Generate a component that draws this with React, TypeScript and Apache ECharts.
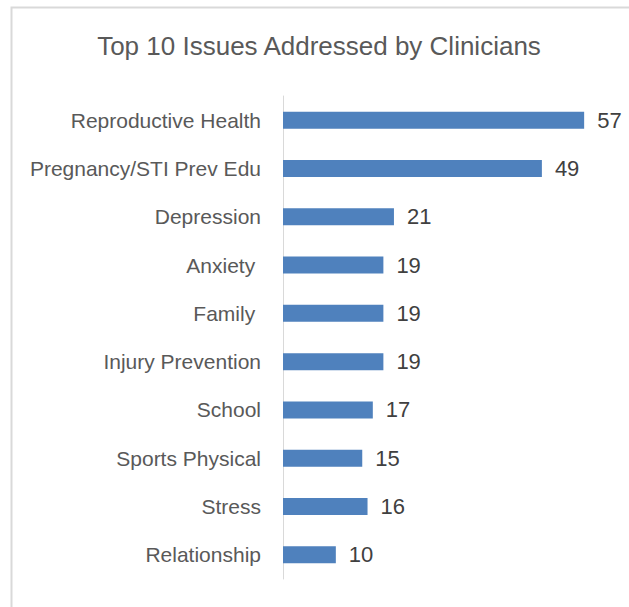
import React, { useEffect, useRef } from "react";
import * as echarts from "echarts";

const categories = [
  "Reproductive Health",
  "Pregnancy/STI Prev Edu",
  "Depression",
  "Anxiety ",
  "Family ",
  "Injury Prevention",
  "School",
  "Sports Physical",
  "Stress",
  "Relationship",
];
const values = [57, 49, 21, 19, 19, 19, 17, 15, 16, 10];
const titleText = "Top 10 Issues Addressed by Clinicians";

export default function App() {
  const ref = useRef<HTMLDivElement>(null);
  useEffect(() => {
    if (!ref.current) return;
    const chart = echarts.init(ref.current, null, { renderer: "svg" });
    const font = "Liberation Sans";
    chart.setOption({
      animation: false,
      backgroundColor: "#ffffff",
      title: {
        text: titleText,
        left: 314,
        textAlign: "center",
        top: 28,
        textStyle: { fontFamily: font, fontSize: 26, fontWeight: "normal", color: "#595959" },
      },
      graphic: [
        {
          type: "rect",
          shape: { x: 11.5, y: 7.5, width: 700, height: 700 },
          style: { fill: "none", stroke: "#d9d9d9", lineWidth: 2 },
          silent: true,
        },
      ],
      grid: { left: 283, right: 29, top: 96, bottom: 28, containLabel: false },
      xAxis: {
        type: "value",
        min: 0,
        max: 60,
        show: false,
      },
      yAxis: {
        type: "category",
        data: categories,
        inverse: true,
        axisLine: { show: true, lineStyle: { color: "#d9d9d9", width: 1 } },
        axisTick: { show: false },
        axisLabel: {
          margin: 22,
          fontFamily: font,
          fontSize: 21,
          color: "#595959",
        },
      },
      series: [
        {
          type: "bar",
          data: values,
          barWidth: 17,
          itemStyle: { color: "#4f81bd" },
          label: {
            show: true,
            position: "right",
            distance: 13,
            fontFamily: font,
            fontSize: 22,
            color: "#404040",
          },
        },
      ],
    });
    return () => chart.dispose();
  }, []);
  return (
    <div
      ref={ref}
      style={{ position: "fixed", left: 0, top: 0, width: 629, height: 607 }}
    />
  );
}
